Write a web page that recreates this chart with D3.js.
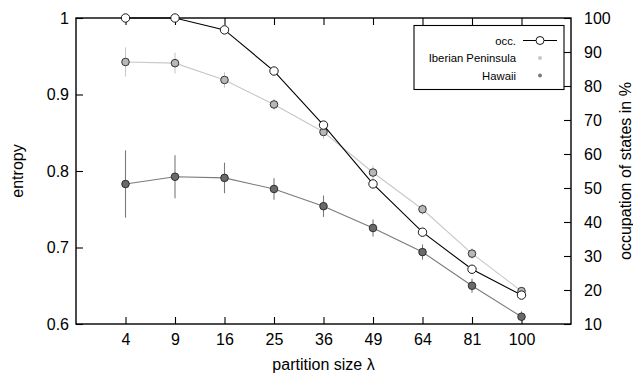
<!DOCTYPE html>
<html>
<head>
<meta charset="utf-8">
<script src="https://cdn.jsdelivr.net/npm/d3@7"></script>
<style>
  body { margin: 0; background: #fff; }
  text { font-family: "Liberation Sans", Arial, sans-serif; fill: #000; }
</style>
</head>
<body>
<script>
// partition sizes on the x axis
var partitions = ["4", "9", "16", "25", "36", "49", "64", "81", "100"];

// occupation of states in % (right axis)
var occ = [100, 100, 96.5, 84.4, 68.5, 51.2, 37, 26.1, 18.5];

// entropy (left axis)
var iberian = [0.9425, 0.941, 0.919, 0.887, 0.851, 0.798, 0.750, 0.692, 0.643];
var iberianErr = [0.019, 0.0135, 0.010, 0.007, 0.009, 0.009, 0.007, 0.007, 0.005];
var hawaii = [0.783, 0.7925, 0.791, 0.7765, 0.754, 0.7255, 0.694, 0.650, 0.6095];
var hawaiiErr = [0.044, 0.028, 0.020, 0.014, 0.014, 0.011, 0.010, 0.009, 0.007];

var leftTicks = [0.6, 0.7, 0.8, 0.9, 1];
var rightTicks = [10, 20, 30, 40, 50, 60, 70, 80, 90, 100];

var width = 633, height = 378;
var plotLeft = 76, plotRight = 571, plotTop = 18, plotBottom = 324;

var svg = d3.select("body").append("svg")
  .attr("width", width)
  .attr("height", height);

var x = d3.scaleLinear().domain([-1, 9]).range([plotLeft, plotRight]);
var yL = d3.scaleLinear().domain([0.6, 1]).range([plotBottom, plotTop]);
var yR = d3.scaleLinear().domain([10, 100]).range([plotBottom, plotTop]);

var idx = d3.range(partitions.length);

// axes
var xBottom = d3.axisBottom(x).tickValues(idx).tickFormat(function (i) { return partitions[i]; })
  .tickSizeInner(-7).tickSizeOuter(0).tickPadding(10);
var xTop = d3.axisTop(x).tickValues(idx).tickFormat("")
  .tickSizeInner(-7).tickSizeOuter(0);
var yLeft = d3.axisLeft(yL).tickValues(leftTicks).tickFormat(function (d) { return d === 1 ? "1" : d3.format(".1f")(d); })
  .tickSizeInner(-7).tickSizeOuter(0).tickPadding(7);
var yRight = d3.axisRight(yR).tickValues(rightTicks)
  .tickSizeInner(-7).tickSizeOuter(0).tickPadding(13);

function style(g) {
  g.select(".domain").remove();
  g.selectAll(".tick line").attr("stroke", "#000").attr("stroke-width", 1.1);
  g.selectAll(".tick text").attr("font-size", 16).attr("fill", "#000")
    .style("font-family", "Liberation Sans, Arial, sans-serif");
}

svg.append("g").attr("transform", "translate(0," + plotBottom + ")").call(xBottom).call(style);
svg.append("g").attr("transform", "translate(0," + plotTop + ")").call(xTop).call(style);
svg.append("g").attr("transform", "translate(" + plotLeft + ",0)").call(yLeft).call(style);
svg.append("g").attr("transform", "translate(" + plotRight + ",0)").call(yRight).call(style);

// frame
svg.append("rect")
  .attr("x", plotLeft).attr("y", plotTop)
  .attr("width", plotRight - plotLeft).attr("height", plotBottom - plotTop)
  .attr("fill", "none").attr("stroke", "#000").attr("stroke-width", 1.4);

// axis titles
svg.append("text")
  .attr("transform", "translate(23," + (plotTop + plotBottom) / 2 + ") rotate(-90)")
  .attr("text-anchor", "middle").attr("font-size", 16)
  .text("entropy");
svg.append("text")
  .attr("x", (plotLeft + plotRight) / 2).attr("y", 370)
  .attr("text-anchor", "middle").attr("font-size", 16)
  .text("partition size λ");
svg.append("text")
  .attr("transform", "translate(631," + (plotTop + plotBottom) / 2 + ") rotate(-90)")
  .attr("text-anchor", "middle").attr("font-size", 16)
  .text("occupation of states in %");

// series
function drawSeries(vals, errs, lineColor, fill) {
  var g = svg.append("g");
  var line = d3.line().x(function (d, i) { return x(i); }).y(function (d) { return yL(d); });
  g.append("path").datum(vals)
    .attr("d", line).attr("fill", "none")
    .attr("stroke", lineColor).attr("stroke-width", 1.1);
  g.selectAll(".err").data(vals).enter().append("line")
    .attr("x1", function (d, i) { return x(i); })
    .attr("x2", function (d, i) { return x(i); })
    .attr("y1", function (d, i) { return yL(d - errs[i]); })
    .attr("y2", function (d, i) { return yL(d + errs[i]); })
    .attr("stroke", lineColor).attr("stroke-width", 1.1);
  g.selectAll("circle").data(vals).enter().append("circle")
    .attr("cx", function (d, i) { return x(i); })
    .attr("cy", function (d) { return yL(d); })
    .attr("r", 3.8)
    .attr("fill", fill).attr("stroke", "#222").attr("stroke-width", 0.9);
}

drawSeries(iberian, iberianErr, "#c8c8c8", "#b8b8b8");
drawSeries(hawaii, hawaiiErr, "#7a7a7a", "#6a6a6a");

var occLine = d3.line().x(function (d, i) { return x(i); }).y(function (d) { return yR(d); });
svg.append("path").datum(occ)
  .attr("d", occLine).attr("fill", "none")
  .attr("stroke", "#000").attr("stroke-width", 1.1);
svg.selectAll(".occ").data(occ).enter().append("circle")
  .attr("class", "occ")
  .attr("cx", function (d, i) { return x(i); })
  .attr("cy", function (d) { return yR(d); })
  .attr("r", 4.2)
  .attr("fill", "#fff").attr("stroke", "#000").attr("stroke-width", 0.9);

// legend
var lg = svg.append("g");
lg.append("rect")
  .attr("x", 414).attr("y", 25.5).attr("width", 150).attr("height", 64)
  .attr("fill", "#fff").attr("stroke", "#000").attr("stroke-width", 1.1);
var legendItems = ["occ.", "Iberian Peninsula", "Hawaii"];
lg.selectAll("text").data(legendItems).enter().append("text")
  .attr("x", 516).attr("y", function (d, i) { return 44.5 + i * 17.5; })
  .attr("text-anchor", "end").attr("font-size", 11.3)
  .text(function (d) { return d; });
lg.append("line").attr("x1", 523).attr("x2", 557).attr("y1", 40.5).attr("y2", 40.5)
  .attr("stroke", "#000").attr("stroke-width", 1.1);
lg.append("circle").attr("cx", 540).attr("cy", 40.5).attr("r", 4)
  .attr("fill", "#fff").attr("stroke", "#000").attr("stroke-width", 0.9);
lg.append("circle").attr("cx", 540).attr("cy", 58).attr("r", 2)
  .attr("fill", "#c8c8c8");
lg.append("circle").attr("cx", 540).attr("cy", 75.5).attr("r", 2)
  .attr("fill", "#7a7a7a");
</script>
</body>
</html>
